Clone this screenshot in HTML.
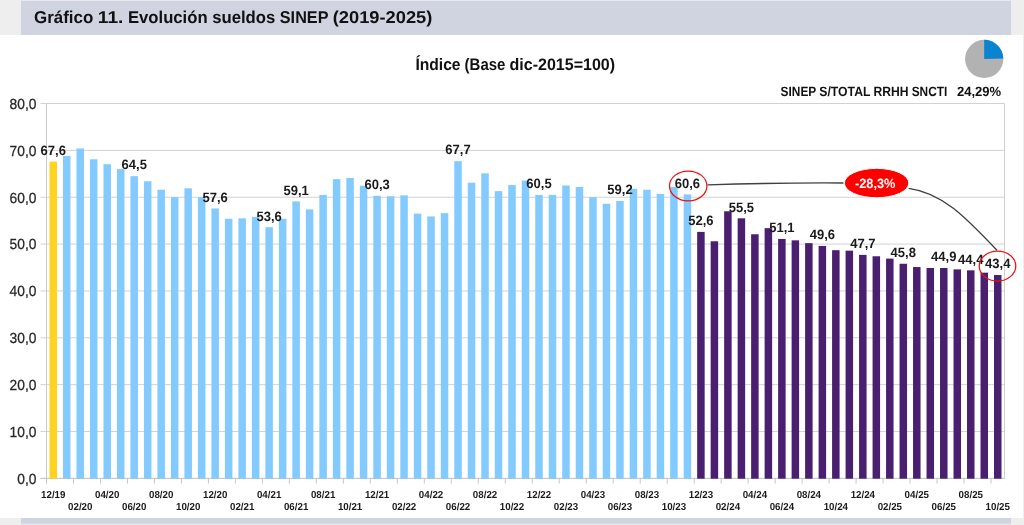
<!DOCTYPE html>
<html lang="es"><head><meta charset="utf-8"><title>Gráfico 11. Evolución sueldos SINEP (2019-2025)</title>
<style>html,body{margin:0;padding:0;background:#fff;overflow:hidden}svg{display:block}text{font-family:"Liberation Sans",sans-serif;text-rendering:geometricPrecision}.b{font-weight:bold}.yl{font-size:14.6px;fill:#262626;stroke:#262626;stroke-width:0.25px;text-anchor:end}.xl{font-size:10.1px;font-weight:bold;fill:#1a1a1a;text-anchor:middle}.dl{font-size:13.5px;font-weight:bold;fill:#1a1a1a;text-anchor:middle}</style></head><body>
<svg width="1024" height="525" viewBox="0 0 1024 525">
<rect x="0" y="0" width="1024" height="525" fill="#eeeeee"/>
<rect x="0" y="35" width="1023" height="483" fill="#ffffff"/>
<rect x="21" y="1" width="990" height="34" fill="#d0d4e1"/>
<rect x="21" y="518" width="990" height="7" fill="#e6e8ee"/>
<rect x="21" y="518" width="990" height="5.7" fill="#d0d4e1"/>
<rect x="21" y="0" width="990" height="1" fill="#e8e9ee"/>
<text class="b" y="22.5" font-size="17.1" fill="#111"><tspan x="34.0" textLength="59.29" lengthAdjust="spacingAndGlyphs">Gráfico</tspan> <tspan x="97.81" textLength="25.62" lengthAdjust="spacingAndGlyphs">11.</tspan> <tspan x="127.95" textLength="79.68" lengthAdjust="spacingAndGlyphs">Evolución</tspan> <tspan x="212.15" textLength="63.15" lengthAdjust="spacingAndGlyphs">sueldos</tspan> <tspan x="279.82" textLength="48.36" lengthAdjust="spacingAndGlyphs">SINEP</tspan> <tspan x="332.7" textLength="99.68" lengthAdjust="spacingAndGlyphs">(2019-2025)</tspan></text>
<text class="b" y="70" font-size="16.6" fill="#111"><tspan x="415.4" textLength="45.13" lengthAdjust="spacingAndGlyphs">Índice</tspan> <tspan x="464.6" textLength="40.83" lengthAdjust="spacingAndGlyphs">(Base</tspan> <tspan x="509.5" textLength="105.56" lengthAdjust="spacingAndGlyphs">dic-2015=100)</tspan></text>
<circle cx="984.2" cy="58.9" r="19.1" fill="#b2b2b2"/>
<path d="M984.2 58.9 L984.2 39.8 A19.1 19.1 0 0 1 1003.29 58.4 Z" fill="#0a84d0"/>
<text class="b" y="96.3" font-size="13.4" fill="#111"><tspan x="780.6" textLength="35.46" lengthAdjust="spacingAndGlyphs">SINEP</tspan> <tspan x="819.3" textLength="50.9" lengthAdjust="spacingAndGlyphs">S/TOTAL</tspan> <tspan x="873.4" textLength="35.02" lengthAdjust="spacingAndGlyphs">RRHH</tspan> <tspan x="911.7" textLength="35.6" lengthAdjust="spacingAndGlyphs">SNCTI</tspan> <tspan x="957.0" textLength="44.21" lengthAdjust="spacingAndGlyphs">24,29%</tspan></text>
<line x1="40.5" y1="478.40" x2="1004.5" y2="478.40" stroke="#d2d2d2" stroke-width="1"/>
<text class="yl" transform="translate(36.4,483.75) scale(0.945,1)" x="0" y="0">0,0</text>
<line x1="40.5" y1="431.54" x2="1004.5" y2="431.54" stroke="#d2d2d2" stroke-width="1"/>
<text class="yl" transform="translate(36.4,436.89) scale(0.945,1)" x="0" y="0">10,0</text>
<line x1="40.5" y1="384.67" x2="1004.5" y2="384.67" stroke="#d2d2d2" stroke-width="1"/>
<text class="yl" transform="translate(36.4,390.02) scale(0.945,1)" x="0" y="0">20,0</text>
<line x1="40.5" y1="337.81" x2="1004.5" y2="337.81" stroke="#d2d2d2" stroke-width="1"/>
<text class="yl" transform="translate(36.4,343.16) scale(0.945,1)" x="0" y="0">30,0</text>
<line x1="40.5" y1="290.95" x2="1004.5" y2="290.95" stroke="#d2d2d2" stroke-width="1"/>
<text class="yl" transform="translate(36.4,296.30) scale(0.945,1)" x="0" y="0">40,0</text>
<line x1="40.5" y1="244.09" x2="1004.5" y2="244.09" stroke="#d2d2d2" stroke-width="1"/>
<text class="yl" transform="translate(36.4,249.44) scale(0.945,1)" x="0" y="0">50,0</text>
<line x1="40.5" y1="197.23" x2="1004.5" y2="197.23" stroke="#d2d2d2" stroke-width="1"/>
<text class="yl" transform="translate(36.4,202.58) scale(0.945,1)" x="0" y="0">60,0</text>
<line x1="40.5" y1="150.36" x2="1004.5" y2="150.36" stroke="#d2d2d2" stroke-width="1"/>
<text class="yl" transform="translate(36.4,155.71) scale(0.945,1)" x="0" y="0">70,0</text>
<line x1="40.5" y1="103.50" x2="1004.5" y2="103.50" stroke="#d2d2d2" stroke-width="1"/>
<text class="yl" transform="translate(36.4,108.85) scale(0.945,1)" x="0" y="0">80,0</text>
<line x1="1004.5" y1="103.5" x2="1004.5" y2="478.4" stroke="#cfcfcf" stroke-width="1"/>
<line x1="46.5" y1="103.5" x2="46.5" y2="483.4" stroke="#c9c9c9" stroke-width="1"/>
<line x1="40.5" y1="478.4" x2="1004.5" y2="478.4" stroke="#c6c6c6" stroke-width="1"/>
<rect x="49.50" y="161.61" width="7.5" height="317.09" fill="#ffd320"/>
<rect x="62.99" y="155.99" width="7.5" height="322.71" fill="#83caff"/>
<rect x="76.48" y="148.49" width="7.5" height="330.21" fill="#83caff"/>
<rect x="89.98" y="159.27" width="7.5" height="319.43" fill="#83caff"/>
<rect x="103.47" y="164.19" width="7.5" height="314.51" fill="#83caff"/>
<rect x="116.96" y="169.11" width="7.5" height="309.59" fill="#83caff"/>
<rect x="130.45" y="176.14" width="7.5" height="302.56" fill="#83caff"/>
<rect x="143.95" y="181.29" width="7.5" height="297.41" fill="#83caff"/>
<rect x="157.44" y="189.73" width="7.5" height="288.97" fill="#83caff"/>
<rect x="170.93" y="197.23" width="7.5" height="281.47" fill="#83caff"/>
<rect x="184.43" y="188.32" width="7.5" height="290.38" fill="#83caff"/>
<rect x="197.92" y="197.23" width="7.5" height="281.47" fill="#83caff"/>
<rect x="211.41" y="208.47" width="7.5" height="270.23" fill="#83caff"/>
<rect x="224.90" y="218.78" width="7.5" height="259.92" fill="#83caff"/>
<rect x="238.40" y="218.31" width="7.5" height="260.39" fill="#83caff"/>
<rect x="251.89" y="216.91" width="7.5" height="261.79" fill="#83caff"/>
<rect x="265.38" y="227.22" width="7.5" height="251.48" fill="#83caff"/>
<rect x="278.88" y="218.78" width="7.5" height="259.92" fill="#83caff"/>
<rect x="292.37" y="201.44" width="7.5" height="277.26" fill="#83caff"/>
<rect x="305.86" y="209.41" width="7.5" height="269.29" fill="#83caff"/>
<rect x="319.36" y="194.88" width="7.5" height="283.82" fill="#83caff"/>
<rect x="332.85" y="179.18" width="7.5" height="299.52" fill="#83caff"/>
<rect x="346.34" y="178.01" width="7.5" height="300.69" fill="#83caff"/>
<rect x="359.83" y="185.74" width="7.5" height="292.96" fill="#83caff"/>
<rect x="373.33" y="195.82" width="7.5" height="282.88" fill="#83caff"/>
<rect x="386.82" y="196.29" width="7.5" height="282.41" fill="#83caff"/>
<rect x="400.31" y="195.35" width="7.5" height="283.35" fill="#83caff"/>
<rect x="413.81" y="213.63" width="7.5" height="265.07" fill="#83caff"/>
<rect x="427.30" y="216.44" width="7.5" height="262.26" fill="#83caff"/>
<rect x="440.79" y="213.16" width="7.5" height="265.54" fill="#83caff"/>
<rect x="454.29" y="161.14" width="7.5" height="317.56" fill="#83caff"/>
<rect x="467.78" y="182.70" width="7.5" height="296.00" fill="#83caff"/>
<rect x="481.27" y="173.33" width="7.5" height="305.37" fill="#83caff"/>
<rect x="494.76" y="191.13" width="7.5" height="287.57" fill="#83caff"/>
<rect x="508.26" y="185.04" width="7.5" height="293.66" fill="#83caff"/>
<rect x="521.75" y="180.59" width="7.5" height="298.11" fill="#83caff"/>
<rect x="535.24" y="194.88" width="7.5" height="283.82" fill="#83caff"/>
<rect x="548.74" y="194.88" width="7.5" height="283.82" fill="#83caff"/>
<rect x="562.23" y="185.51" width="7.5" height="293.19" fill="#83caff"/>
<rect x="575.72" y="186.92" width="7.5" height="291.78" fill="#83caff"/>
<rect x="589.21" y="197.23" width="7.5" height="281.47" fill="#83caff"/>
<rect x="602.71" y="203.79" width="7.5" height="274.91" fill="#83caff"/>
<rect x="616.20" y="200.97" width="7.5" height="277.73" fill="#83caff"/>
<rect x="629.69" y="188.79" width="7.5" height="289.91" fill="#83caff"/>
<rect x="643.19" y="189.73" width="7.5" height="288.97" fill="#83caff"/>
<rect x="656.68" y="193.94" width="7.5" height="284.76" fill="#83caff"/>
<rect x="670.17" y="186.92" width="7.5" height="291.78" fill="#83caff"/>
<rect x="683.67" y="194.41" width="7.5" height="284.29" fill="#83caff"/>
<rect x="697.16" y="231.90" width="7.5" height="246.80" fill="#4b1f6f"/>
<rect x="710.65" y="241.28" width="7.5" height="237.42" fill="#4b1f6f"/>
<rect x="724.14" y="211.28" width="7.5" height="267.42" fill="#4b1f6f"/>
<rect x="737.64" y="218.31" width="7.5" height="260.39" fill="#4b1f6f"/>
<rect x="751.13" y="234.25" width="7.5" height="244.45" fill="#4b1f6f"/>
<rect x="764.62" y="228.15" width="7.5" height="250.55" fill="#4b1f6f"/>
<rect x="778.12" y="238.93" width="7.5" height="239.77" fill="#4b1f6f"/>
<rect x="791.61" y="240.34" width="7.5" height="238.36" fill="#4b1f6f"/>
<rect x="805.10" y="243.15" width="7.5" height="235.55" fill="#4b1f6f"/>
<rect x="818.60" y="245.96" width="7.5" height="232.74" fill="#4b1f6f"/>
<rect x="832.09" y="250.18" width="7.5" height="228.52" fill="#4b1f6f"/>
<rect x="845.58" y="250.65" width="7.5" height="228.05" fill="#4b1f6f"/>
<rect x="859.07" y="254.87" width="7.5" height="223.83" fill="#4b1f6f"/>
<rect x="872.57" y="256.27" width="7.5" height="222.43" fill="#4b1f6f"/>
<rect x="886.06" y="258.61" width="7.5" height="220.09" fill="#4b1f6f"/>
<rect x="899.55" y="263.77" width="7.5" height="214.93" fill="#4b1f6f"/>
<rect x="913.05" y="267.05" width="7.5" height="211.65" fill="#4b1f6f"/>
<rect x="926.54" y="267.99" width="7.5" height="210.71" fill="#4b1f6f"/>
<rect x="940.03" y="267.99" width="7.5" height="210.71" fill="#4b1f6f"/>
<rect x="953.52" y="269.39" width="7.5" height="209.31" fill="#4b1f6f"/>
<rect x="967.02" y="270.33" width="7.5" height="208.37" fill="#4b1f6f"/>
<rect x="980.51" y="272.67" width="7.5" height="206.03" fill="#4b1f6f"/>
<rect x="994.00" y="275.02" width="7.5" height="203.68" fill="#4b1f6f"/>
<line x1="46.50" y1="478.4" x2="46.50" y2="483.59999999999997" stroke="#c6c6c6" stroke-width="1"/>
<line x1="73.49" y1="478.4" x2="73.49" y2="483.59999999999997" stroke="#c6c6c6" stroke-width="1"/>
<line x1="100.47" y1="478.4" x2="100.47" y2="483.59999999999997" stroke="#c6c6c6" stroke-width="1"/>
<line x1="127.46" y1="478.4" x2="127.46" y2="483.59999999999997" stroke="#c6c6c6" stroke-width="1"/>
<line x1="154.44" y1="478.4" x2="154.44" y2="483.59999999999997" stroke="#c6c6c6" stroke-width="1"/>
<line x1="181.43" y1="478.4" x2="181.43" y2="483.59999999999997" stroke="#c6c6c6" stroke-width="1"/>
<line x1="208.42" y1="478.4" x2="208.42" y2="483.59999999999997" stroke="#c6c6c6" stroke-width="1"/>
<line x1="235.40" y1="478.4" x2="235.40" y2="483.59999999999997" stroke="#c6c6c6" stroke-width="1"/>
<line x1="262.39" y1="478.4" x2="262.39" y2="483.59999999999997" stroke="#c6c6c6" stroke-width="1"/>
<line x1="289.37" y1="478.4" x2="289.37" y2="483.59999999999997" stroke="#c6c6c6" stroke-width="1"/>
<line x1="316.36" y1="478.4" x2="316.36" y2="483.59999999999997" stroke="#c6c6c6" stroke-width="1"/>
<line x1="343.35" y1="478.4" x2="343.35" y2="483.59999999999997" stroke="#c6c6c6" stroke-width="1"/>
<line x1="370.33" y1="478.4" x2="370.33" y2="483.59999999999997" stroke="#c6c6c6" stroke-width="1"/>
<line x1="397.32" y1="478.4" x2="397.32" y2="483.59999999999997" stroke="#c6c6c6" stroke-width="1"/>
<line x1="424.30" y1="478.4" x2="424.30" y2="483.59999999999997" stroke="#c6c6c6" stroke-width="1"/>
<line x1="451.29" y1="478.4" x2="451.29" y2="483.59999999999997" stroke="#c6c6c6" stroke-width="1"/>
<line x1="478.27" y1="478.4" x2="478.27" y2="483.59999999999997" stroke="#c6c6c6" stroke-width="1"/>
<line x1="505.26" y1="478.4" x2="505.26" y2="483.59999999999997" stroke="#c6c6c6" stroke-width="1"/>
<line x1="532.25" y1="478.4" x2="532.25" y2="483.59999999999997" stroke="#c6c6c6" stroke-width="1"/>
<line x1="559.23" y1="478.4" x2="559.23" y2="483.59999999999997" stroke="#c6c6c6" stroke-width="1"/>
<line x1="586.22" y1="478.4" x2="586.22" y2="483.59999999999997" stroke="#c6c6c6" stroke-width="1"/>
<line x1="613.20" y1="478.4" x2="613.20" y2="483.59999999999997" stroke="#c6c6c6" stroke-width="1"/>
<line x1="640.19" y1="478.4" x2="640.19" y2="483.59999999999997" stroke="#c6c6c6" stroke-width="1"/>
<line x1="667.18" y1="478.4" x2="667.18" y2="483.59999999999997" stroke="#c6c6c6" stroke-width="1"/>
<line x1="694.16" y1="478.4" x2="694.16" y2="483.59999999999997" stroke="#c6c6c6" stroke-width="1"/>
<line x1="721.15" y1="478.4" x2="721.15" y2="483.59999999999997" stroke="#c6c6c6" stroke-width="1"/>
<line x1="748.13" y1="478.4" x2="748.13" y2="483.59999999999997" stroke="#c6c6c6" stroke-width="1"/>
<line x1="775.12" y1="478.4" x2="775.12" y2="483.59999999999997" stroke="#c6c6c6" stroke-width="1"/>
<line x1="802.11" y1="478.4" x2="802.11" y2="483.59999999999997" stroke="#c6c6c6" stroke-width="1"/>
<line x1="829.09" y1="478.4" x2="829.09" y2="483.59999999999997" stroke="#c6c6c6" stroke-width="1"/>
<line x1="856.08" y1="478.4" x2="856.08" y2="483.59999999999997" stroke="#c6c6c6" stroke-width="1"/>
<line x1="883.06" y1="478.4" x2="883.06" y2="483.59999999999997" stroke="#c6c6c6" stroke-width="1"/>
<line x1="910.05" y1="478.4" x2="910.05" y2="483.59999999999997" stroke="#c6c6c6" stroke-width="1"/>
<line x1="937.04" y1="478.4" x2="937.04" y2="483.59999999999997" stroke="#c6c6c6" stroke-width="1"/>
<line x1="964.02" y1="478.4" x2="964.02" y2="483.59999999999997" stroke="#c6c6c6" stroke-width="1"/>
<line x1="991.01" y1="478.4" x2="991.01" y2="483.59999999999997" stroke="#c6c6c6" stroke-width="1"/>
<text class="xl" transform="translate(53.25,497.8) scale(0.965,1)">12/19</text>
<text class="xl" transform="translate(80.23,510.1) scale(0.965,1)">02/20</text>
<text class="xl" transform="translate(107.22,497.8) scale(0.965,1)">04/20</text>
<text class="xl" transform="translate(134.20,510.1) scale(0.965,1)">06/20</text>
<text class="xl" transform="translate(161.19,497.8) scale(0.965,1)">08/20</text>
<text class="xl" transform="translate(188.18,510.1) scale(0.965,1)">10/20</text>
<text class="xl" transform="translate(215.16,497.8) scale(0.965,1)">12/20</text>
<text class="xl" transform="translate(242.15,510.1) scale(0.965,1)">02/21</text>
<text class="xl" transform="translate(269.13,497.8) scale(0.965,1)">04/21</text>
<text class="xl" transform="translate(296.12,510.1) scale(0.965,1)">06/21</text>
<text class="xl" transform="translate(323.11,497.8) scale(0.965,1)">08/21</text>
<text class="xl" transform="translate(350.09,510.1) scale(0.965,1)">10/21</text>
<text class="xl" transform="translate(377.08,497.8) scale(0.965,1)">12/21</text>
<text class="xl" transform="translate(404.06,510.1) scale(0.965,1)">02/22</text>
<text class="xl" transform="translate(431.05,497.8) scale(0.965,1)">04/22</text>
<text class="xl" transform="translate(458.04,510.1) scale(0.965,1)">06/22</text>
<text class="xl" transform="translate(485.02,497.8) scale(0.965,1)">08/22</text>
<text class="xl" transform="translate(512.01,510.1) scale(0.965,1)">10/22</text>
<text class="xl" transform="translate(538.99,497.8) scale(0.965,1)">12/22</text>
<text class="xl" transform="translate(565.98,510.1) scale(0.965,1)">02/23</text>
<text class="xl" transform="translate(592.96,497.8) scale(0.965,1)">04/23</text>
<text class="xl" transform="translate(619.95,510.1) scale(0.965,1)">06/23</text>
<text class="xl" transform="translate(646.94,497.8) scale(0.965,1)">08/23</text>
<text class="xl" transform="translate(673.92,510.1) scale(0.965,1)">10/23</text>
<text class="xl" transform="translate(700.91,497.8) scale(0.965,1)">12/23</text>
<text class="xl" transform="translate(727.89,510.1) scale(0.965,1)">02/24</text>
<text class="xl" transform="translate(754.88,497.8) scale(0.965,1)">04/24</text>
<text class="xl" transform="translate(781.87,510.1) scale(0.965,1)">06/24</text>
<text class="xl" transform="translate(808.85,497.8) scale(0.965,1)">08/24</text>
<text class="xl" transform="translate(835.84,510.1) scale(0.965,1)">10/24</text>
<text class="xl" transform="translate(862.82,497.8) scale(0.965,1)">12/24</text>
<text class="xl" transform="translate(889.81,510.1) scale(0.965,1)">02/25</text>
<text class="xl" transform="translate(916.80,497.8) scale(0.965,1)">04/25</text>
<text class="xl" transform="translate(943.78,510.1) scale(0.965,1)">06/25</text>
<text class="xl" transform="translate(970.77,497.8) scale(0.965,1)">08/25</text>
<text class="xl" transform="translate(997.75,510.1) scale(0.965,1)">10/25</text>
<path d="M707.5 184.9 Q780 182.6 843.5 183" fill="none" stroke="#404040" stroke-width="1.35"/>
<path d="M908.6 188.3 C942 192.6 965 216.6 997 250.3" fill="none" stroke="#404040" stroke-width="1.35"/>
<text class="dl" transform="translate(53.25,154.96) scale(0.965,1)">67,6</text>
<text class="dl" transform="translate(134.20,169.49) scale(0.965,1)">64,5</text>
<text class="dl" transform="translate(215.16,201.82) scale(0.965,1)">57,6</text>
<text class="dl" transform="translate(269.13,220.57) scale(0.965,1)">53,6</text>
<text class="dl" transform="translate(296.12,194.79) scale(0.965,1)">59,1</text>
<text class="dl" transform="translate(377.08,189.17) scale(0.965,1)">60,3</text>
<text class="dl" transform="translate(458.04,154.49) scale(0.965,1)">67,7</text>
<text class="dl" transform="translate(538.99,188.23) scale(0.965,1)">60,5</text>
<text class="dl" transform="translate(619.95,194.32) scale(0.965,1)">59,2</text>
<text class="dl" transform="translate(687.42,187.76) scale(0.965,1)">60,6</text>
<text class="dl" transform="translate(700.91,225.25) scale(0.965,1)">52,6</text>
<text class="dl" transform="translate(741.39,211.66) scale(0.965,1)">55,5</text>
<text class="dl" transform="translate(781.87,232.28) scale(0.965,1)">51,1</text>
<text class="dl" transform="translate(822.35,239.31) scale(0.965,1)">49,6</text>
<text class="dl" transform="translate(862.82,248.22) scale(0.965,1)">47,7</text>
<text class="dl" transform="translate(903.30,257.12) scale(0.965,1)">45,8</text>
<text class="dl" transform="translate(943.78,261.34) scale(0.965,1)">44,9</text>
<text class="dl" transform="translate(970.77,263.68) scale(0.965,1)">44,4</text>
<text class="dl" transform="translate(997.75,268.37) scale(0.965,1)">43,4</text>
<ellipse cx="688.2" cy="185.9" rx="18.7" ry="14.9" fill="none" stroke="#ee1111" stroke-width="1.25"/>
<ellipse cx="997.5" cy="266.1" rx="18.3" ry="14.9" fill="none" stroke="#ee1111" stroke-width="1.25"/>
<ellipse cx="876.6" cy="183.05" rx="32.25" ry="14.7" fill="#ff0000" stroke="#ffffff" stroke-width="1"/>
<text class="b" transform="translate(875.2,187.7) scale(0.945,1)" font-size="13.5" fill="#fff" text-anchor="middle">-28,3%</text>
</svg></body></html>
